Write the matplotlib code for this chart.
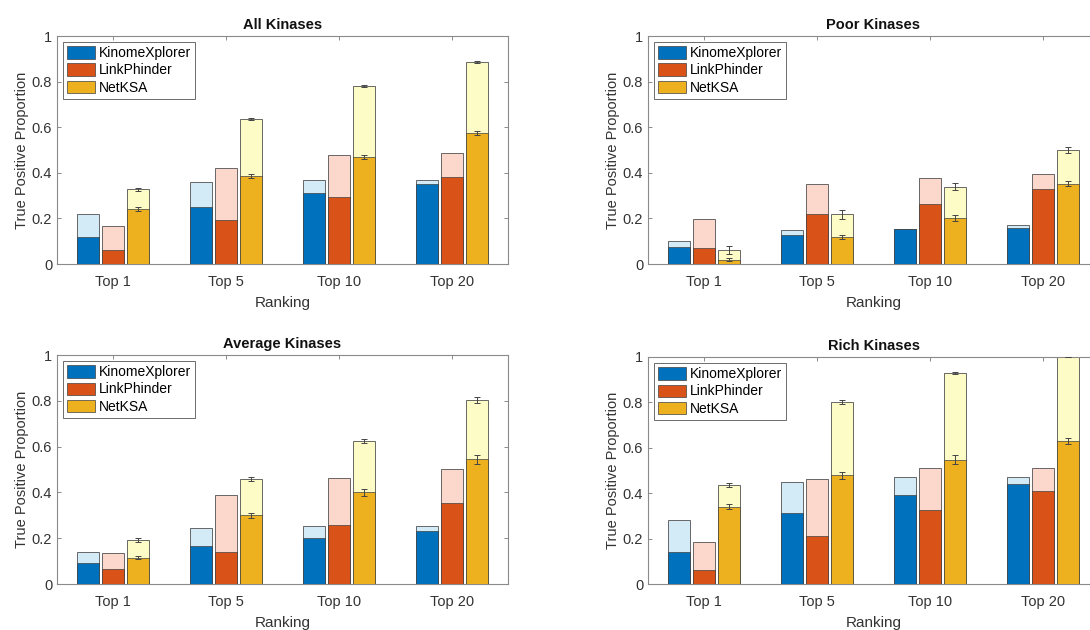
import matplotlib.pyplot as plt
import numpy as np
from matplotlib.patches import Patch

plt.rcParams['font.family'] = ['Liberation Sans', 'DejaVu Sans']

rankings = ['Top 1', 'Top 5', 'Top 10', 'Top 20']
methods = ['KinomeXplorer', 'LinkPhinder', 'NetKSA']

# lower (dark) and upper (light) proportions, rows = methods
all_low = [[0.12, 0.25, 0.31, 0.35],
           [0.063, 0.193, 0.295, 0.38],
           [0.24, 0.387, 0.47, 0.574]]
all_high = [[0.22, 0.36, 0.37, 0.37],
            [0.167, 0.42, 0.48, 0.487],
            [0.327, 0.637, 0.78, 0.887]]
all_err_low = [0.008, 0.008, 0.008, 0.008]
all_err_high = [0.008, 0.005, 0.004, 0.004]

poor_low = [[0.074, 0.126, 0.155, 0.158],
            [0.068, 0.218, 0.265, 0.33],
            [0.019, 0.118, 0.202, 0.353]]
poor_high = [[0.099, 0.15, 0.155, 0.169],
             [0.196, 0.35, 0.376, 0.394],
             [0.062, 0.218, 0.339, 0.5]]
poor_err_low = [0.006, 0.01, 0.012, 0.01]
poor_err_high = [0.016, 0.02, 0.016, 0.014]

avg_low = [[0.092, 0.167, 0.202, 0.23],
           [0.065, 0.141, 0.256, 0.352],
           [0.115, 0.30, 0.401, 0.544]]
avg_high = [[0.14, 0.244, 0.253, 0.253],
            [0.137, 0.388, 0.462, 0.501],
            [0.192, 0.459, 0.624, 0.804]]
avg_err_low = [0.007, 0.012, 0.015, 0.02]
avg_err_high = [0.007, 0.008, 0.01, 0.012]

rich_low = [[0.142, 0.313, 0.392, 0.442],
            [0.061, 0.212, 0.325, 0.41],
            [0.341, 0.479, 0.548, 0.631]]
rich_high = [[0.28, 0.451, 0.47, 0.47],
             [0.184, 0.461, 0.51, 0.51],
             [0.436, 0.802, 0.931, 1.0]]
rich_err_low = [0.012, 0.015, 0.02, 0.014]
rich_err_high = [0.01, 0.008, 0.005, 0.0]

dark = ['#0072BD', '#D95319', '#EDB120']
light = ['#d3ebf6', '#fbd8cb', '#fdfcc6']

panels = [
    ('All Kinases', all_low, all_high, all_err_low, all_err_high,
     [57, 36, 451, 228]),
    ('Poor Kinases', poor_low, poor_high, poor_err_low, poor_err_high,
     [648, 36, 451, 228]),
    ('Average Kinases', avg_low, avg_high, avg_err_low, avg_err_high,
     [57, 355, 451, 229]),
    ('Rich Kinases', rich_low, rich_high, rich_err_low, rich_err_high,
     [648, 357, 451, 227]),
]

W, H = 1090, 630
fig = plt.figure(figsize=(W / 100, H / 100), dpi=100)

x = np.arange(1, 5)
offsets = [-0.222, 0.0, 0.222]
width = 0.195

for title, low, high, err_lo, err_hi, (px, py, pw, ph) in panels:
    ax = fig.add_axes([px / W, 1 - (py + ph) / H, pw / W, ph / H])
    for i in range(3):
        xs = x + offsets[i]
        ax.bar(xs, high[i], width, color=light[i], edgecolor='#505050',
               linewidth=0.6, zorder=2)
        ax.bar(xs, low[i], width, color=dark[i], edgecolor='#404040',
               linewidth=0.5, zorder=3)
    # error bars on NetKSA
    xs = x + offsets[2]
    ax.errorbar(xs, low[2], yerr=err_lo, fmt='none', ecolor='#444444',
                elinewidth=0.7, capsize=2.2, capthick=0.7, zorder=4)
    ax.errorbar(xs, high[2], yerr=err_hi, fmt='none', ecolor='#444444',
                elinewidth=0.7, capsize=2.2, capthick=0.7, zorder=4)

    ax.set_xlim(0.5, 4.5)
    ax.set_ylim(0, 1)
    ax.set_xticks(x)
    ax.set_xticklabels(rankings)
    ax.set_yticks([0, 0.2, 0.4, 0.6, 0.8, 1])
    ax.set_yticklabels(['0', '0.2', '0.4', '0.6', '0.8', '1'])
    ax.tick_params(direction='in', top=True, right=True, length=3,
                   width=0.6, color='#777777', labelsize=10.5,
                   labelcolor='#333333')
    ax.tick_params(axis='x', pad=8)
    for s in ax.spines.values():
        s.set_color('#8a8a8a')
        s.set_linewidth(0.8)
    ax.set_title(title, fontsize=10.5, fontweight='bold', pad=5,
                 color='#111111')
    ax.set_xlabel('Ranking', fontsize=11, color='#333333', labelpad=5)
    ax.set_ylabel('True Positive Proportion', fontsize=10.5,
                  color='#333333', labelpad=2)

    handles = [Patch(facecolor=dark[i], edgecolor='#404040', linewidth=0.5)
               for i in range(3)]
    leg = ax.legend(handles, methods, loc='upper left', fontsize=10,
                    frameon=True, fancybox=False, framealpha=1,
                    edgecolor='#555555', borderpad=0.3, labelspacing=0.22,
                    handlelength=2.0, handleheight=1.0, handletextpad=0.25,
                    borderaxespad=0.45)
    leg.get_frame().set_linewidth(0.6)

fig.savefig('out.png', dpi=100)
